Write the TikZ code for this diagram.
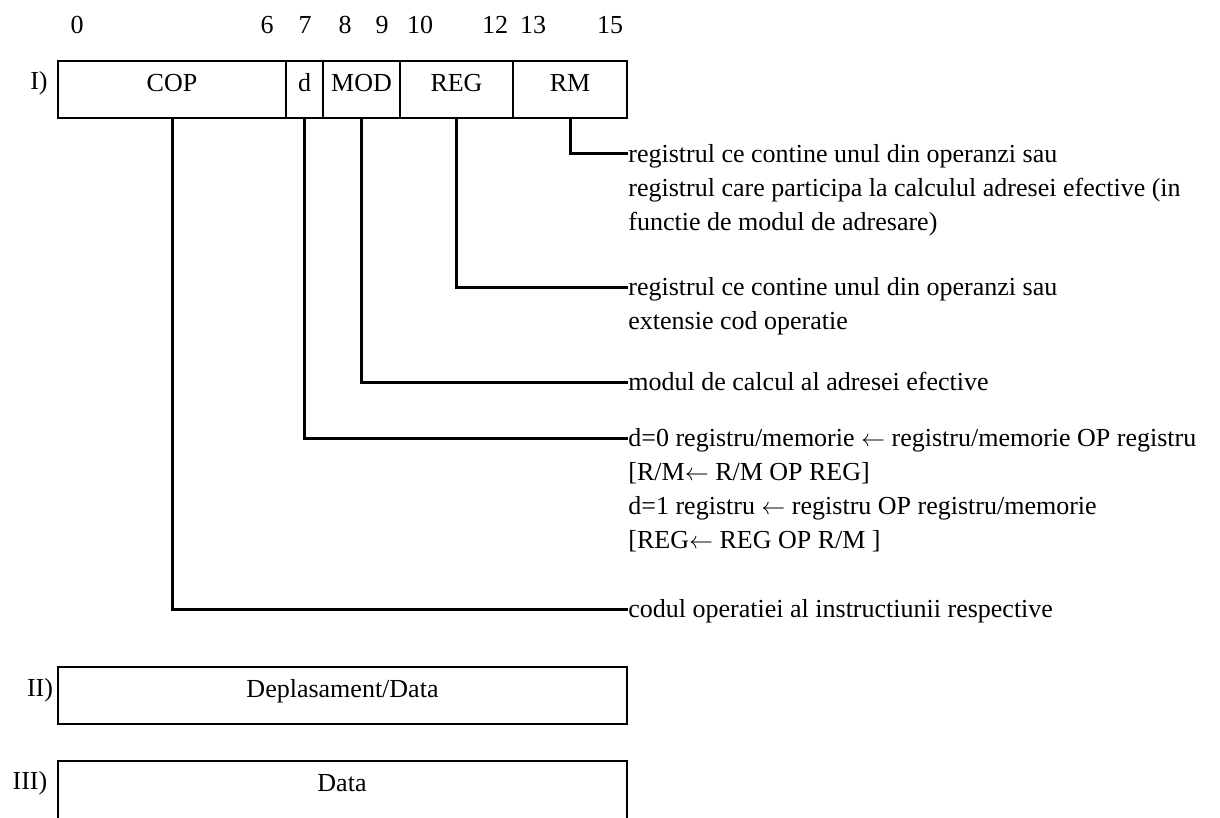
\documentclass[tikz,border=0pt]{standalone}
\usepackage{fontspec}
\setmainfont{Liberation Serif}
\usetikzlibrary{positioning}

\newcommand{\lto}{\ensuremath{\leftarrow}}

\tikzset{
	txt/.style = {inner sep = 0pt, font = \fontsize{13}{15.6}\selectfont},
	field/.style = {txt, draw, line width = 1pt, outer sep = 0pt, minimum height = 28.5pt,
		text height = 0.66em, text depth = 0.5em},
	desc/.style = {txt, anchor = west, text height = 1.06em, text depth = 0.2em},
	wire/.style = {line width = 1.5pt}
}

\begin{document}
\begin{tikzpicture}[x = 0.5pt, y = -0.5pt]
			\useasboundingbox (0, 0) rectangle (1220, 818);
			
			\foreach \x/\b in {77/0, 267/6, 305/7, 345/8, 382/9, 420/10, 495/12, 533/13, 610/15} {
				\node[txt] (bit\b) at (\x, 25) {\b};
			}
			
			\node[txt] (rowa) at (39, 83) {I)};
			\node[field, minimum width = 114pt, anchor = north west] (cop) at (58, 61) {COP};
			\node[field, minimum width = 18.5pt, right = 0pt of cop] (d) {d};
			\node[field, minimum width = 38.5pt, right = 0pt of d] (mod) {MOD};
			\node[field, minimum width = 56.5pt, right = 0pt of mod] (reg) {REG};
			\node[field, minimum width = 57pt, right = 0pt of reg] (rm) {RM};
			
			\node[desc] (rmtxta) at (628, 154) {registrul ce contine unul din operanzi sau};
			\node[desc] (rmtxtb) at (628, 188) {registrul care participa la calculul adresei efective (in};
			\node[desc] (rmtxtc) at (628, 222) {functie de modul de adresare)};
			
			\node[desc] (regtxta) at (628, 287) {registrul ce contine unul din operanzi sau};
			\node[desc] (regtxtb) at (628, 321) {extensie cod operatie};
			
			\node[desc] (modtxt) at (628, 382) {modul de calcul al adresei efective};
			
			\node[desc] (dtxta) at (628, 438) {d=0 registru/memorie \lto{} registru/memorie OP registru};
			\node[desc] (dtxtb) at (628, 472) {[R/M\lto{} R/M OP REG]};
			\node[desc] (dtxtc) at (628, 506) {d=1 registru \lto{} registru OP registru/memorie};
			\node[desc] (dtxtd) at (628, 540) {[REG\lto{} REG OP R/M ]};
			
			\node[desc] (coptxt) at (628, 609) {codul operatiei al instructiunii respective};
			
			\draw[wire] (rm.south) |- (rmtxta.west);
			\draw[wire] (reg.south) |- (regtxta.west);
			\draw[wire] (mod.south) |- (modtxt.west);
			\draw[wire] (d.south) |- (dtxta.west);
			\draw[wire] (cop.south) |- (coptxt.west);
			
			\node[txt] (rowb) at (40, 690) {II)};
			\node[field, minimum width = 284.5pt, anchor = north west] (displ) at (58, 667) {Deplasament/Data};
			
			\node[txt] (rowc) at (30, 783) {III)};
			\draw[line width = 1pt] (58, 818) -- (58, 761) -- (627, 761) -- (627, 818);
			\node[txt] (data) at (342, 783) {Data};
		\end{tikzpicture}
\end{document}
